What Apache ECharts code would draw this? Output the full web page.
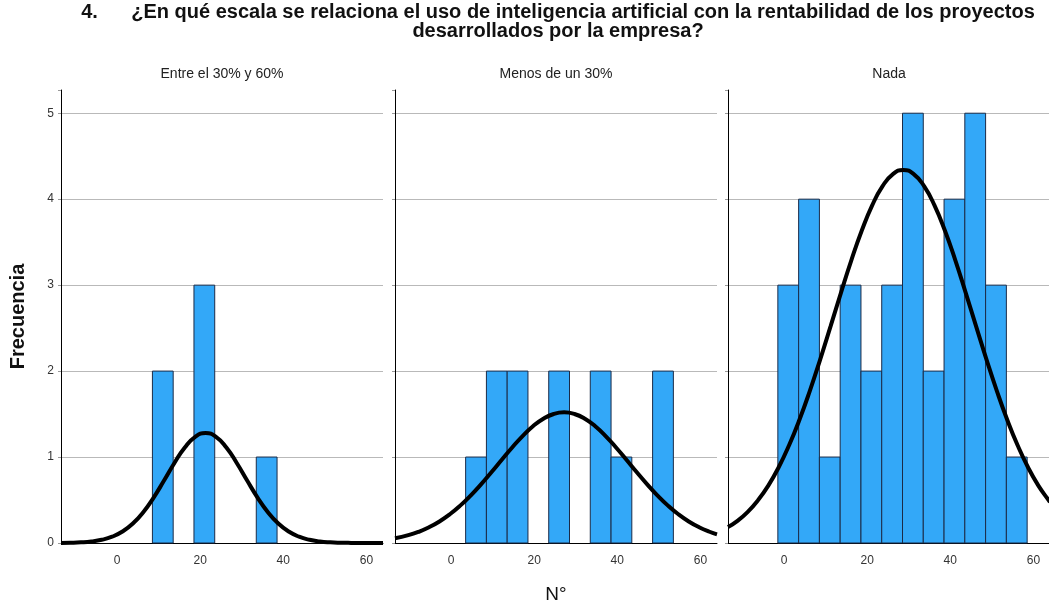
<!DOCTYPE html>
<html>
<head>
<meta charset="utf-8">
<script src="https://cdn.jsdelivr.net/npm/echarts@6.0.0/dist/echarts.min.js"></script>
<style>
  html, body { margin: 0; padding: 0; background: #ffffff; }
  #chart { width: 1049px; height: 605px; }
</style>
</head>
<body>
<div id="chart"></div>
<script>
// Histogram panels: frequency of N° by answer group, with fitted normal curves
const titleLines = [
  '4.      ¿En qué escala se relaciona el uso de inteligencia artificial con la rentabilidad de los proyectos',
  'desarrollados por la empresa?'
];
const panelTitles = ['Entre el 30% y 60%', 'Menos de un 30%', 'Nada'];
const yAxisTitle = 'Frecuencia';
const xAxisTitle = 'N°';

// Bin edges shared by all panels (width 5)
const binEdges = [-1.5, 3.5, 8.5, 13.5, 18.5, 23.5, 28.5, 33.5, 38.5, 43.5, 48.5, 53.5, 58.5];
const countsEntre = [0, 0, 2, 0, 3, 0, 0, 1, 0, 0, 0, 0];
const countsMenos = [0, 1, 2, 2, 0, 2, 0, 2, 1, 0, 2, 0];
const countsNada  = [3, 4, 1, 3, 2, 3, 5, 2, 4, 5, 3, 1];

// Normal curve heights sampled along N° ([N°, height])
const curveEntre = [[-13.5, 0.0014], [-11.2, 0.0033], [-8.7, 0.0079], [-6.2, 0.0177], [-3.7, 0.0372],
  [-1.2, 0.0729], [1.3, 0.1331], [3.8, 0.2262], [6.3, 0.3583], [8.8, 0.5287], [11.3, 0.7269],
  [13.8, 0.9311], [16.3, 1.1111], [18.8, 1.2355], [21.3, 1.28], [23.8, 1.2355], [26.3, 1.1111],
  [28.8, 0.9311], [31.3, 0.7269], [33.8, 0.5287], [36.3, 0.3583], [38.8, 0.2262], [41.3, 0.1331],
  [43.8, 0.0729], [46.3, 0.0372], [48.8, 0.0177], [51.3, 0.0079], [53.8, 0.0033], [56.3, 0.0012],
  [58.8, 0.0004], [61.3, 0.0001], [64, 0]];
const curveMenos = [[-13.5, 0.055], [-10.3, 0.0909], [-7.8, 0.1307], [-5.3, 0.1833], [-2.8, 0.2506],
  [-0.3, 0.3342], [2.2, 0.4347], [4.7, 0.5514], [7.2, 0.6822], [9.7, 0.8232], [12.2, 0.9686],
  [14.7, 1.1115], [17.2, 1.2441], [19.7, 1.3581], [22.2, 1.4458], [24.7, 1.5011], [27.2, 1.52],
  [29.7, 1.5011], [32.2, 1.4458], [34.7, 1.3581], [37.2, 1.2441], [39.7, 1.1115], [42.2, 0.9686],
  [44.7, 0.8232], [47.2, 0.6822], [49.7, 0.5514], [52.2, 0.4347], [54.7, 0.3342], [57.2, 0.2506],
  [59.7, 0.1833], [62.2, 0.1307], [64, 0.101]];
const curveNada = [[-13.5, 0.185], [-11.3, 0.255], [-8.8, 0.359], [-6.3, 0.496], [-3.8, 0.668],
  [-1.3, 0.881], [1.2, 1.137], [3.7, 1.434], [6.2, 1.77], [8.7, 2.137], [11.2, 2.523],
  [13.7, 2.913], [16.2, 3.291], [18.7, 3.635], [21.2, 3.928], [23.7, 4.152], [26.2, 4.292],
  [28.7, 4.34], [31.2, 4.292], [33.7, 4.152], [36.2, 3.928], [38.7, 3.635], [41.2, 3.291],
  [43.7, 2.913], [46.2, 2.523], [48.7, 2.137], [51.2, 1.77], [53.7, 1.434], [56.2, 1.137],
  [58.7, 0.881], [61.2, 0.668], [63.7, 0.496], [64, 0.477]];

const xTickStep = 20;

const counts = [countsEntre, countsMenos, countsNada];
const curves = [curveEntre, curveMenos, curveNada];

const FONT = '"Liberation Sans", Arial, sans-serif';
const BAR_FILL = '#33a8f8';
const BAR_EDGE = '#1b2b48';

const panelLeft = [61, 395, 728];
const panelWidth = 322;
const plotTop = 90;
const plotHeight = 453;

function renderBin(params, api) {
  const topLeft = api.coord([api.value(0), api.value(2)]);
  const bottomRight = api.coord([api.value(1), 0]);
  return {
    type: 'rect',
    shape: {
      x: topLeft[0],
      y: topLeft[1],
      width: bottomRight[0] - topLeft[0],
      height: bottomRight[1] - topLeft[1]
    },
    style: { fill: BAR_FILL, stroke: BAR_EDGE, lineWidth: 1 }
  };
}

const grids = [], xAxes = [], yAxes = [], series = [], graphics = [];

for (let i = 0; i < 3; i++) {
  grids.push({
    left: panelLeft[i], top: plotTop, width: panelWidth, height: plotHeight,
    containLabel: false, outerBoundsMode: 'none'
  });

  xAxes.push({
    type: 'value', gridIndex: i, min: -13.5, max: 64, splitNumber: 4,
    axisLine: { show: true, onZero: false, lineStyle: { color: '#000', width: 1 } },
    axisTick: { show: false },
    splitLine: { show: false },
    axisLabel: {
      color: '#333', fontSize: 12, fontFamily: FONT, margin: 12,
      formatter: v => (v % xTickStep === 0 ? String(v) : '')
    },
    name: i === 1 ? xAxisTitle : '',
    nameLocation: 'middle', nameGap: 42,
    nameTextStyle: { color: '#111', fontSize: 19, fontFamily: FONT }
  });

  yAxes.push({
    type: 'value', gridIndex: i, min: 0, max: 5.27, interval: 1,
    axisLine: { show: true, onZero: false, lineStyle: { color: '#000', width: 1 } },
    axisTick: { show: true, length: 3, lineStyle: { color: '#999' } },
    splitLine: { show: true, showMaxLine: false, lineStyle: { color: '#b9b9b9', width: 1 } },
    axisLabel: {
      show: i === 0, color: '#333', fontSize: 12, fontFamily: FONT, margin: 7,
      formatter: v => (Number.isInteger(v) ? String(v) : '')
    },
    name: i === 0 ? yAxisTitle : '',
    nameLocation: 'middle', nameGap: 33,
    nameTextStyle: { color: '#111', fontSize: 20, fontWeight: 'bold', fontFamily: FONT }
  });

  const binData = [];
  counts[i].forEach((c, k) => {
    if (c > 0) binData.push([binEdges[k], binEdges[k + 1], c]);
  });
  series.push({
    type: 'custom', xAxisIndex: i, yAxisIndex: i,
    renderItem: renderBin, data: binData,
    encode: { x: [0, 1], y: 2 }, z: 2, silent: true
  });

  series.push({
    type: 'line', xAxisIndex: i, yAxisIndex: i,
    data: curves[i],
    smooth: 0.5, showSymbol: false, clip: false, z: 5, silent: true,
    lineStyle: { color: '#000', width: 4 }
  });

  graphics.push({
    type: 'text', x: panelLeft[i] + panelWidth / 2, y: 74,
    style: {
      text: panelTitles[i], fill: '#222', font: '14px ' + FONT,
      textAlign: 'center', textVerticalAlign: 'middle'
    }
  });
}

graphics.push({
  type: 'text', x: 558, y: 12,
  style: {
    text: titleLines[0], fill: '#111', font: 'bold 20px ' + FONT,
    textAlign: 'center', textVerticalAlign: 'middle'
  }
});
graphics.push({
  type: 'text', x: 558, y: 31,
  style: {
    text: titleLines[1], fill: '#111', font: 'bold 20px ' + FONT,
    textAlign: 'center', textVerticalAlign: 'middle'
  }
});

const chart = echarts.init(document.getElementById('chart'), null, { renderer: 'canvas' });
chart.setOption({
  backgroundColor: '#ffffff',
  animation: false,
  grid: grids,
  xAxis: xAxes,
  yAxis: yAxes,
  series: series,
  graphic: graphics
});
</script>
</body>
</html>
